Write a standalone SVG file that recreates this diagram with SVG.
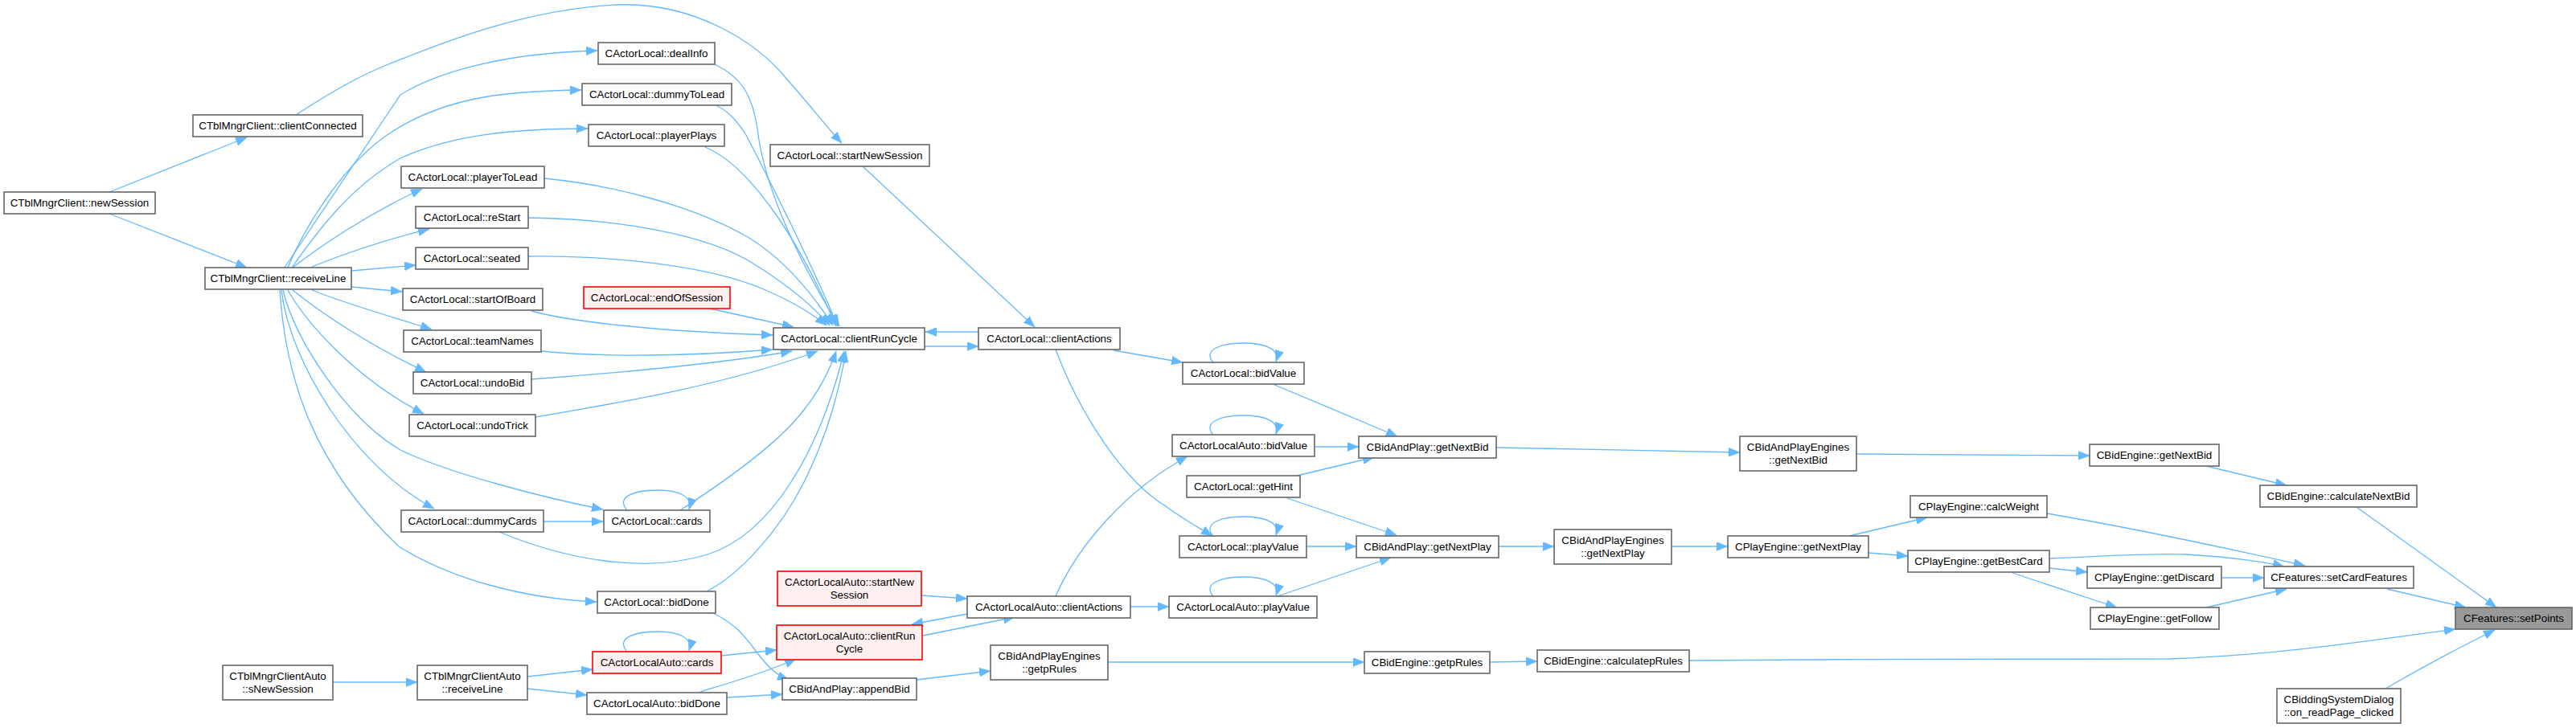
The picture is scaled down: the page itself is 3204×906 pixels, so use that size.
<svg xmlns="http://www.w3.org/2000/svg" width="3204" height="906" viewBox="0 0 3204 906">
<style>
.n rect{fill:#ffffff;stroke:#666666;stroke-width:1.6}
.r rect{fill:#fff0f0;stroke:#ff0000;stroke-width:1.6}
.g rect{fill:#999999;stroke:#666666;stroke-width:1.6}
text{font-family:"Liberation Sans",Arial,sans-serif;font-size:13.4px;fill:#000000;text-anchor:middle}
.e path{fill:none;stroke:#63b8ff;stroke-width:1.3;marker-end:url(#ah)}
</style>
<defs>
<marker id="ah" markerUnits="userSpaceOnUse" markerWidth="15" markerHeight="11" refX="14" refY="5.5" orient="auto">
<path d="M0,0 L14,5.5 L0,11 z" fill="#63b8ff" stroke="#63b8ff" stroke-width="0.5"/>
</marker>
</defs>
<rect width="3204" height="906" fill="#ffffff"/>
<g id="edges" class="e">
<path d="M136,239 L307,171"/>
<path d="M136,266 L307,333"/>
<path d="M368,143 C410,116 445,95 483,80 C520,66 640,12 766,6 C860,2 940,50 980,100 C1005,128 1030,160 1047,178"/>
<path d="M354,333 L498,118 C540,92 620,66 743,63"/>
<path d="M358,333 C380,280 430,200 489,163 C560,118 640,113 723,112"/>
<path d="M363,333 C400,280 440,230 498,197 C560,168 640,160 731,160"/>
<path d="M364,333 C400,305 460,265 525,235"/>
<path d="M388,332 C430,315 480,298 534,285"/>
<path d="M437,337 L517,330"/>
<path d="M437,357 L500,363"/>
<path d="M388,361 C430,378 490,395 537,410"/>
<path d="M364,361 C400,390 460,430 530,463"/>
<path d="M358,361 C380,400 440,470 527,515"/>
<path d="M352,361 C365,420 430,520 498,560 C560,590 680,620 750,634"/>
<path d="M350,361 C360,450 440,580 540,633"/>
<path d="M348,361 C355,470 390,580 496,680 C560,720 650,745 742,749"/>
<path d="M889,80 C920,95 935,115 942,160 C950,230 990,320 1044,406"/>
<path d="M892,132 C905,138 915,148 928,168 C960,230 1010,330 1042,406"/>
<path d="M877,183 C930,205 990,290 1040,406"/>
<path d="M677,222 C760,230 860,255 930,295 C975,322 1010,365 1036,405"/>
<path d="M657,271 C760,272 880,290 940,330 C980,355 1010,380 1032,405"/>
<path d="M657,319 C760,318 880,330 950,360 C985,375 1010,390 1028,405"/>
<path d="M883,384 L987,407"/>
<path d="M661,387 C700,398 800,412 961,417"/>
<path d="M673,437 C750,445 860,443 961,435"/>
<path d="M661,472 C760,465 900,452 985,437"/>
<path d="M666,519 C760,503 900,480 1017,437"/>
<path d="M846,635 C900,600 970,550 1000,510 C1020,485 1032,460 1040,437"/>
<path d="M621,662 C700,695 800,715 880,690 C960,665 1020,560 1050,437"/>
<path d="M879,736 C920,715 970,660 1000,600 C1030,540 1045,480 1052,437"/>
<path d="M676,649 L750,649"/>
<path d="M780,635 C765,618 790,610 817,610 C845,610 862,618 857,634"/>
<path d="M887,763 C915,777 925,790 940,810 C955,830 965,840 981,846"/>
<path d="M1217,413 L1151,413"/>
<path d="M1150,431 L1217,431"/>
<path d="M1073,207 L1287,407"/>
<path d="M1385,436 L1471,451"/>
<path d="M1313,435 C1345,520 1400,600 1450,630 C1470,645 1490,656 1508,667"/>
<path d="M1509,451 C1495,435 1520,427 1546,427 C1575,427 1592,435 1587,450"/>
<path d="M1509,541 C1495,525 1520,517 1546,517 C1575,517 1592,525 1587,540"/>
<path d="M1509,667 C1495,651 1520,643 1546,643 C1575,643 1592,651 1587,666"/>
<path d="M1509,742 C1495,726 1520,718 1546,718 C1575,718 1592,726 1587,741"/>
<path d="M1583,478 L1738,543"/>
<path d="M1635,556 L1690,556"/>
<path d="M1613,592 L1709,569"/>
<path d="M1601,620 L1737,666"/>
<path d="M1625,680 L1687,680"/>
<path d="M1589,742 L1730,694"/>
<path d="M1313,742 C1340,680 1400,610 1477,568"/>
<path d="M1406,755 L1454,755"/>
<path d="M1146,741 L1203,745"/>
<path d="M1203,764 L1134,777"/>
<path d="M1148,791 L1262,768"/>
<path d="M1140,846 L1232,835"/>
<path d="M1378,824 L1697,824"/>
<path d="M780,811 C765,794 790,786 817,786 C845,786 862,794 857,810"/>
<path d="M897,816 L966,809"/>
<path d="M871,861 C900,852 950,838 990,820"/>
<path d="M904,868 L973,864"/>
<path d="M656,842 L737,833"/>
<path d="M656,857 L730,865"/>
<path d="M414,849 L519,849"/>
<path d="M1861,557 L2164,563"/>
<path d="M1864,680 L1933,680"/>
<path d="M2079,680 L2149,680"/>
<path d="M2300,667 L2397,644"/>
<path d="M2324,688 L2373,692"/>
<path d="M1853,824 L1912,823"/>
<path d="M2101,822 C2300,820 2550,820 2697,820 C2820,816 2930,800 3054,783"/>
<path d="M2309,565 L2599,567"/>
<path d="M2744,580 L2844,604"/>
<path d="M2931,631 L3105,756"/>
<path d="M2546,639 C2640,655 2760,680 2867,704"/>
<path d="M2549,695 C2620,692 2680,688 2720,690 C2770,693 2810,698 2841,705"/>
<path d="M2549,707 L2596,712"/>
<path d="M2503,713 L2633,756"/>
<path d="M2763,719 L2816,719"/>
<path d="M2744,756 L2844,733"/>
<path d="M2969,733 L3067,756"/>
<path d="M2967,857 C3000,838 3050,810 3103,784"/>
</g>
<g id="n_newSession" class="n"><rect x="5" y="239" width="188" height="27"/><text x="99" y="257">CTblMngrClient::newSession</text></g>
<g id="n_clientConnected" class="n"><rect x="240" y="143" width="211" height="27"/><text x="345.5" y="161">CTblMngrClient::clientConnected</text></g>
<g id="n_receiveLine" class="n"><rect x="255" y="333" width="182" height="27"/><text x="346" y="351">CTblMngrClient::receiveLine</text></g>
<g id="n_sNewSession" class="n"><rect x="277" y="828" width="137" height="43"/><text x="345.5" y="846">CTblMngrClientAuto</text><text x="345.5" y="861.5">::sNewSession</text></g>
<g id="n_playerToLead" class="n"><rect x="499" y="207" width="178" height="27"/><text x="588" y="225">CActorLocal::playerToLead</text></g>
<g id="n_reStart" class="n"><rect x="517" y="257" width="140" height="27"/><text x="587" y="275">CActorLocal::reStart</text></g>
<g id="n_seated" class="n"><rect x="517" y="308" width="140" height="27"/><text x="587" y="326">CActorLocal::seated</text></g>
<g id="n_startOfBoard" class="n"><rect x="501" y="359" width="174" height="27"/><text x="588" y="377">CActorLocal::startOfBoard</text></g>
<g id="n_teamNames" class="n"><rect x="502" y="411" width="171" height="27"/><text x="587.5" y="429">CActorLocal::teamNames</text></g>
<g id="n_undoBid" class="n"><rect x="514" y="463" width="147" height="27"/><text x="587.5" y="481">CActorLocal::undoBid</text></g>
<g id="n_undoTrick" class="n"><rect x="509" y="516" width="157" height="27"/><text x="587.5" y="534">CActorLocal::undoTrick</text></g>
<g id="n_dummyCards" class="n"><rect x="499" y="635" width="177" height="27"/><text x="587.5" y="653">CActorLocal::dummyCards</text></g>
<g id="n_autoReceiveLine" class="n"><rect x="519" y="828" width="137" height="43"/><text x="587.5" y="846">CTblMngrClientAuto</text><text x="587.5" y="861.5">::receiveLine</text></g>
<g id="n_dealInfo" class="n"><rect x="744" y="53" width="145" height="27"/><text x="816.5" y="71">CActorLocal::dealInfo</text></g>
<g id="n_dummyToLead" class="n"><rect x="724" y="104" width="186" height="27"/><text x="817" y="122">CActorLocal::dummyToLead</text></g>
<g id="n_playerPlays" class="n"><rect x="732" y="155" width="169" height="27"/><text x="816.5" y="173">CActorLocal::playerPlays</text></g>
<g id="n_endOfSession" class="r"><rect x="726" y="357" width="182" height="27"/><text x="817" y="375">CActorLocal::endOfSession</text></g>
<g id="n_cards" class="n"><rect x="751" y="635" width="132" height="27"/><text x="817" y="653">CActorLocal::cards</text></g>
<g id="n_bidDone" class="n"><rect x="743" y="736" width="147" height="27"/><text x="816.5" y="754">CActorLocal::bidDone</text></g>
<g id="n_autoCards" class="r"><rect x="737" y="811" width="160" height="27"/><text x="817" y="829">CActorLocalAuto::cards</text></g>
<g id="n_autoBidDone" class="n"><rect x="730" y="862" width="174" height="27"/><text x="817" y="880">CActorLocalAuto::bidDone</text></g>
<g id="n_startNewSession" class="n"><rect x="958" y="180" width="198" height="27"/><text x="1057" y="198">CActorLocal::startNewSession</text></g>
<g id="n_clientRunCycle" class="n"><rect x="962" y="408" width="188" height="27"/><text x="1056" y="426">CActorLocal::clientRunCycle</text></g>
<g id="n_autoStartNewSession" class="r"><rect x="967" y="711" width="179" height="43"/><text x="1056.5" y="729">CActorLocalAuto::startNew</text><text x="1056.5" y="744.5">Session</text></g>
<g id="n_autoClientRunCycle" class="r"><rect x="966" y="778" width="181" height="43"/><text x="1056.5" y="796">CActorLocalAuto::clientRun</text><text x="1056.5" y="811.5">Cycle</text></g>
<g id="n_appendBid" class="n"><rect x="973" y="844" width="167" height="27"/><text x="1056.5" y="862">CBidAndPlay::appendBid</text></g>
<g id="n_clientActions" class="n"><rect x="1217" y="408" width="176" height="27"/><text x="1305" y="426">CActorLocal::clientActions</text></g>
<g id="n_autoClientActions" class="n"><rect x="1203" y="742" width="203" height="27"/><text x="1304.5" y="760">CActorLocalAuto::clientActions</text></g>
<g id="n_enginesGetpRules" class="n"><rect x="1232" y="803" width="146" height="43"/><text x="1305" y="821">CBidAndPlayEngines</text><text x="1305" y="836.5">::getpRules</text></g>
<g id="n_bidValue" class="n"><rect x="1471" y="451" width="151" height="27"/><text x="1546.5" y="469">CActorLocal::bidValue</text></g>
<g id="n_autoBidValue" class="n"><rect x="1458" y="541" width="177" height="27"/><text x="1546.5" y="559">CActorLocalAuto::bidValue</text></g>
<g id="n_getHint" class="n"><rect x="1476" y="592" width="141" height="27"/><text x="1546.5" y="610">CActorLocal::getHint</text></g>
<g id="n_playValue" class="n"><rect x="1467" y="667" width="158" height="27"/><text x="1546" y="685">CActorLocal::playValue</text></g>
<g id="n_autoPlayValue" class="n"><rect x="1454" y="742" width="184" height="27"/><text x="1546" y="760">CActorLocalAuto::playValue</text></g>
<g id="n_bpGetNextBid" class="n"><rect x="1690" y="543" width="171" height="27"/><text x="1775.5" y="561">CBidAndPlay::getNextBid</text></g>
<g id="n_bpGetNextPlay" class="n"><rect x="1687" y="667" width="177" height="27"/><text x="1775.5" y="685">CBidAndPlay::getNextPlay</text></g>
<g id="n_beGetpRules" class="n"><rect x="1697" y="811" width="156" height="27"/><text x="1775" y="829">CBidEngine::getpRules</text></g>
<g id="n_engGetNextBid" class="n"><rect x="2164" y="543" width="145" height="43"/><text x="2236.5" y="561">CBidAndPlayEngines</text><text x="2236.5" y="576.5">::getNextBid</text></g>
<g id="n_engGetNextPlay" class="n"><rect x="1933" y="659" width="146" height="43"/><text x="2006" y="677">CBidAndPlayEngines</text><text x="2006" y="692.5">::getNextPlay</text></g>
<g id="n_calculatepRules" class="n"><rect x="1912" y="809" width="189" height="27"/><text x="2006.5" y="827">CBidEngine::calculatepRules</text></g>
<g id="n_peGetNextPlay" class="n"><rect x="2149" y="667" width="175" height="27"/><text x="2236.5" y="685">CPlayEngine::getNextPlay</text></g>
<g id="n_beGetNextBid" class="n"><rect x="2599" y="553" width="161" height="27"/><text x="2679.5" y="571">CBidEngine::getNextBid</text></g>
<g id="n_calcWeight" class="n"><rect x="2376" y="617" width="170" height="27"/><text x="2461" y="635">CPlayEngine::calcWeight</text></g>
<g id="n_getBestCard" class="n"><rect x="2373" y="685" width="176" height="27"/><text x="2461" y="703">CPlayEngine::getBestCard</text></g>
<g id="n_getDiscard" class="n"><rect x="2596" y="705" width="167" height="27"/><text x="2679.5" y="723">CPlayEngine::getDiscard</text></g>
<g id="n_getFollow" class="n"><rect x="2600" y="756" width="160" height="27"/><text x="2680" y="774">CPlayEngine::getFollow</text></g>
<g id="n_calculateNextBid" class="n"><rect x="2811" y="604" width="195" height="27"/><text x="2908.5" y="622">CBidEngine::calculateNextBid</text></g>
<g id="n_setCardFeatures" class="n"><rect x="2816" y="705" width="186" height="27"/><text x="2909" y="723">CFeatures::setCardFeatures</text></g>
<g id="n_onReadPage" class="n"><rect x="2832" y="857" width="154" height="43"/><text x="2909" y="875">CBiddingSystemDialog</text><text x="2909" y="890.5">::on_readPage_clicked</text></g>
<g id="n_setPoints" class="g"><rect x="3054" y="756" width="145" height="27"/><text x="3126.5" y="774">CFeatures::setPoints</text></g>
</svg>
